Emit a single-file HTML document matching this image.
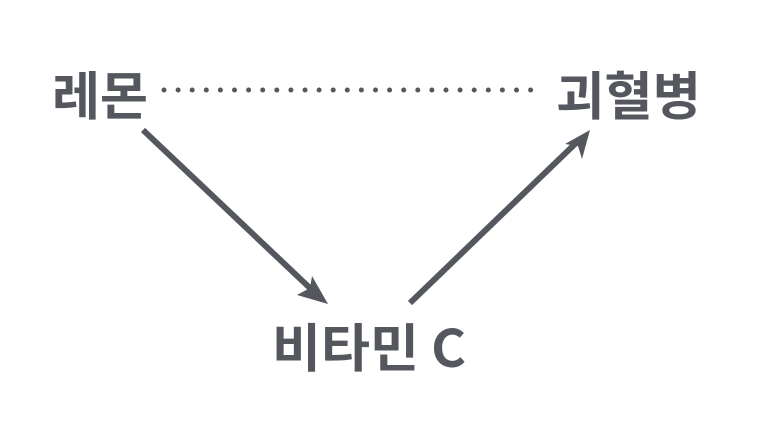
<!DOCTYPE html>
<html><head><meta charset="utf-8"><style>
html,body{margin:0;padding:0;background:#fff;}
body{width:760px;height:432px;overflow:hidden;position:relative;}
svg{position:absolute;left:0;top:0;}
text{font-family:"Noto Sans CJK KR",sans-serif;font-weight:bold;fill:#54575d;font-size:52px;}
</style></head><body>
<svg width="760" height="432" viewBox="0 0 760 432">
<text x="52" y="115" textLength="96" lengthAdjust="spacingAndGlyphs">레몬</text>
<text x="556" y="115" textLength="145" lengthAdjust="spacingAndGlyphs">괴혈병</text>
<text x="272" y="367" textLength="194" lengthAdjust="spacingAndGlyphs">비타민 C</text>
<line x1="164" y1="90" x2="532" y2="90" stroke="#54575d" stroke-width="5" stroke-linecap="round" stroke-dasharray="0 14.1"/>
<g stroke="#54575d" stroke-width="6" fill="#54575d">
<line x1="143" y1="130" x2="312" y2="290"/>
<polygon stroke="none" points="328,304 297,295 310,288 312,276"/>
<line x1="410" y1="303" x2="576" y2="143"/>
<polygon stroke="none" points="590,130 582,159 578,146 565,144"/>
</g>
</svg>
</body></html>
